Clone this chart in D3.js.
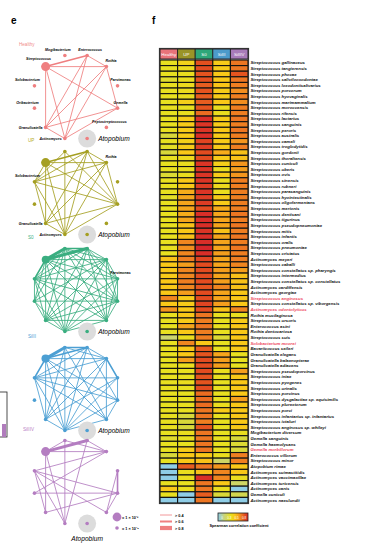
<!DOCTYPE html>
<html>
<head>
<meta charset="utf-8">
<script src="https://cdn.jsdelivr.net/npm/d3@7"></script>
<style>
body { margin: 0; background: #fff; }
svg { display: block; font-family: "Liberation Sans", Arial, sans-serif; }
</style>
</head>
<body>
<svg id="chart"></svg>
<script>
// figure size
var width = 370,
	height = 545;

// ---- data ----
var groups = ['Healthy', 'UP', 'S0', 'SiIII', 'SiIIIV'];

var species = [
	'Streptococcus gallinaceus', 'Streptococcus tangierensis', 'Streptococcus phocae',
	'Streptococcus salivilooxodontae', 'Streptococcus loxodontisalivarius', 'Streptococcus porcorum',
	'Streptococcus hyovaginalis', 'Streptococcus marimammalium', 'Streptococcus moroccensis',
	'Streptococcus rifensis', 'Streptococcus lactarius', 'Streptococcus sanguinis',
	'Streptococcus peroris', 'Streptococcus australis', 'Streptococcus cameli',
	'Streptococcus troglodytidis', 'Streptococcus gordonii', 'Streptococcus thoraltensis',
	'Streptococcus cuniculi', 'Streptococcus uberis', 'Streptococcus ovis',
	'Streptococcus sinensis', 'Streptococcus rubneri', 'Streptococcus parasanguinis',
	'Streptococcus hyointestinalis', 'Streptococcus oligofermentans', 'Streptococcus merionis',
	'Streptococcus dentisani', 'Streptococcus tigurinus', 'Streptococcus pseudopneumoniae',
	'Streptococcus mitis', 'Streptococcus infantis', 'Streptococcus oralis',
	'Streptococcus pneumoniae', 'Streptococcus cristatus', 'Actinomyces meyeri',
	'Streptococcus caballi', 'Streptococcus constellatus sp. pharyngis', 'Streptococcus intermedius',
	'Streptococcus constellatus sp. constellatus', 'Actinomyces cardiffensis', 'Actinomyces georgiae',
	'Streptococcus anginosus', 'Streptococcus constellatus sp. viborgensis', 'Actinomyces odontolyticus',
	'Rothia mucilaginosa', 'Streptococcus ursoris', 'Enterococcus asini',
	'Rothia dentocariosa', 'Streptococcus suis', 'Solobacterium moorei',
	'Bavariicoccus seileri', 'Granulicatella elegans', 'Granulicatella balaenopterae',
	'Granulicatella adiacens', 'Streptococcus pseudoporcinus', 'Streptococcus iniae',
	'Streptococcus pyogenes', 'Streptococcus urinalis', 'Streptococcus porcinus',
	'Streptococcus dysgalactiae sp. equisimilis', 'Streptococcus plurextorum', 'Streptococcus porci',
	'Streptococcus infantarius sp. infantarius', 'Streptococcus ictaluri', 'Streptococcus anginosus sp. whileyi',
	'Mogibacterium diversum', 'Gemella sanguinis', 'Gemella haemolysans',
	'Gemella morbillorum', 'Enterococcus villorum', 'Streptococcus minor',
	'Atopobium rimae', 'Actinomyces suimastitidis', 'Actinomyces vaccimaxillae',
	'Actinomyces turicensis', 'Actinomyces canis', 'Gemella cuniculi',
	'Actinomyces naeslundii'
];

// species highlighted in red in the row labels
var highlighted = ['Streptococcus anginosus', 'Actinomyces odontolyticus', 'Solobacterium moorei', 'Gemella morbillorum'];

// spearman correlation, one array per group (same order as species)
var healthyRho = [.30,.30,.30,.26,.30,.30,.30,.30,.30,.30, .30,.30,.30,.22,.30,.28,.22,.30,.30,.30,
	.24,.30,.30,.30,.28,.30,.30,.30,.30,.30, .30,.30,.30,.30,.30,.46,.44,.44,.42,.44,
	.44,.44,.62,.44,.58,.30,.30,.30,.30,.12, .30,.30,.30,.30,.30,.30,.30,.30,.30,.30,
	.30,.30,.30,.30,.30,.30,.30,.26,.30,.30, .22,.30,-.1,-.1,-.1,.30,.44,.30,-.1];
var upRho = [.38,.33,.32,.32,.33,.33,.32,.40,.30,.32, .42,.42,.42,.42,.40,.42,.44,.34,.32,.32,
	.32,.44,.44,.52,.54,.54,.54,.52,.54,.46, .44,.46,.62,.60,.62,.64,.56,.62,.62,.64,
	.62,.56,.42,.42,.44,.44,.42,.54,.44,.32, .62,.44,.44,.56,.32,.30,.30,.32,.30,.30,
	.30,.30,.30,.22,.22,.22,.32,.30,.30,.42, .44,.44,.72,.32,.32,.30,.32,-.1,-.1];
var s0Rho = [.75,.76,.74,.75,.72,.74,.72,.72,.74,.68, .84,.82,.82,.84,.78,.80,.76,.76,.82,.82,
	.82,.82,.80,.82,.80,.80,.76,.84,.84,.84, .82,.84,.84,.86,.84,.78,.76,.76,.76,.76,
	.74,.76,.76,.78,.76,.66,.64,.66,.64,.64, .44,.72,.74,.76,.76,.76,.74,.74,.76,.68,
	.68,.68,.66,.66,.64,.74,.66,.66,.66,.66, .44,.46,.66,.46,.84,.66,.66,.72,.66];
var si3Rho = [.42,.42,.44,.44,.45,.42,.42,.44,.32,.32, .42,.42,.44,.42,.42,.42,.52,.42,.40,.32,
	.42,.32,.34,.32,.42,.42,.52,.54,.54,.54, .46,.54,.54,.54,.56,.54,.54,.56,.54,.56,
	.62,.54,.54,.56,.46,.30,.30,.30,.30,.24, .30,.30,.54,.56,.56,.32,.30,.30,.30,.30,
	.30,.32,.42,.30,.30,.30,.30,.30,.30,.30, .32,.14,.58,.62,.62,.44,.32,.22,-.1];
var si34Rho = [.66,.66,.74,.66,.64,.60,.64,.60,.64,.64, .66,.64,.66,.64,.58,.64,.46,.46,.58,.56,
	.58,.64,.64,.64,.64,.64,.64,.66,.64,.66, .64,.66,.64,.66,.64,.64,.62,.56,.46,.46,
	.46,.44,.44,.44,.62,.30,.42,.44,.44,.44, .44,.44,.30,.30,.30,.56,.44,.44,.44,.44,
	.56,.44,.44,.44,.44,.44,.32,.22,.24,.22, .64,.64,.44,.44,.32,.14,-.1,.18,-.1];

var rhoByGroup = [healthyRho, upRho, s0Rho, si3Rho, si34Rho];

// genus networks (panel e)
var taxa = ['Mogibacterium', 'Enterococcus', 'Rothia', 'Parvimonas', 'Gemella', 'Peptostreptococcus',
	'Atopobium', 'Actinomyces', 'Granulicatella', 'Oribacterium', 'Solobacterium', 'Streptococcus'];

// relative abundance of Streptococcus per group, other genera ~1e-4
var strepAbundance = [0.012, 0.012, 0.004, 0.006, 0.012];

// edges: [source, target, strength class 1 (>0.4), 2 (>0.6), 3 (>0.8)]
var healthyEdges = [[11,1,2],[11,2,1],[11,4,1],[11,8,1],[11,7,1],[1,2,1],[1,8,1],[1,7,1],
	[2,8,1],[2,7,1],[2,4,1],[4,8,1],[4,7,1],[8,7,1]];
var upEdges = [[11,1,2],[11,2,1],[11,4,1],[11,10,1],[11,8,1],[11,7,1],[0,10,1],[0,7,1],[0,4,1],
	[1,2,1],[1,10,1],[1,8,1],[1,7,1],[1,4,1],[2,10,1],[2,8,1],[2,7,1],[2,4,1],
	[4,10,1],[4,8,1],[4,7,1],[10,8,1],[10,7,1],[8,7,1]];
var s0Edges = [[0,1,2],[0,2,1],[0,3,1],[0,4,1],[0,5,1],[0,7,1],[0,8,1],[0,9,1],[0,10,1],[0,11,3],
	[1,2,1],[1,3,1],[1,4,1],[1,5,1],[1,7,1],[1,8,1],[1,10,1],[1,11,3],
	[2,3,1],[2,4,1],[2,5,1],[2,7,1],[2,8,1],[2,9,1],[2,10,1],[2,11,1],
	[3,4,1],[3,5,1],[3,7,1],[3,8,1],[3,10,1],[3,11,1],
	[4,5,1],[4,7,1],[4,8,1],[4,9,1],[4,10,1],[4,11,1],
	[5,7,1],[5,8,1],[5,10,1],[5,11,1],[7,8,1],[7,9,1],[7,10,1],[7,11,1],
	[8,9,1],[8,10,1],[8,11,1],[9,10,1],[9,11,1],[10,11,2]];
var si3Edges = [[11,0,3],[11,1,2],[0,1,2],[11,2,1],[11,4,1],[11,7,1],[11,8,1],[11,10,2],[11,5,1],
	[0,2,1],[0,7,1],[0,8,1],[0,5,1],[1,2,1],[1,10,1],[1,7,1],[1,8,1],[1,4,1],
	[2,3,2],[2,10,1],[2,7,1],[2,8,1],[2,5,1],[3,4,1],[3,10,1],[3,7,1],[3,8,1],
	[4,10,1],[4,7,1],[4,5,1],[5,10,1],[5,7,1],[7,10,1],[7,8,1],[8,10,1]];
var si34Edges = [[11,1,3],[11,0,1],[0,2,1],[1,2,1],[11,2,1],[2,10,1],[2,9,1],[11,7,1],[11,8,1],
	[10,8,1],[10,7,1],[0,7,1],[1,7,1],[3,4,2],[3,5,1],[4,5,1],[4,10,1],[4,9,1],[4,8,1],[10,5,1]];

var edgesByGroup = [healthyEdges, upEdges, s0Edges, si3Edges, si34Edges];

// which genera carry a name label in each network
var labelledTaxa = [[0,1,2,3,4,5,7,8,9,10,11], [2,10,8,7], [3], [], []];

// ---- styles ----
var headerColors = ['#e8737a', '#9a9428', '#2ea77a', '#4c9bcb', '#a87bb9'];
var netColors = ['#ef7f80', '#a59f22', '#3aae80', '#4c9fd3', '#b47dc1'];
var labelColors = ['#f08c8c', '#b5ab2a', '#3db184', '#4aa0d5', '#b883c6'];

var color = d3.scaleLinear()
	.domain([-0.1, 0.1, 0.22, 0.3, 0.44, 0.55, 0.65, 0.75, 0.86])
	.range(['#8fcde6', '#c9d47a', '#d8d83a', '#e8e020', '#f9c818', '#f5a21c', '#ee7a22', '#e4501f', '#d6262a'])
	.clamp(true);

var svg = d3.select('#chart')
	.attr('width', width)
	.attr('height', height);

// panel letters
svg.append('text').attr('x', 11).attr('y', 24)
	.style('font-size', '10px').style('font-weight', 'bold').text('e');
svg.append('text').attr('x', 152).attr('y', 24)
	.style('font-size', '10px').style('font-weight', 'bold').text('f');

// cut-off piece of the neighbouring panel on the far left
svg.append('rect').attr('x', -4).attr('y', 392).attr('width', 11).attr('height', 45)
	.attr('fill', 'none').attr('stroke', '#222').attr('stroke-width', 0.8);
svg.append('rect').attr('x', 2).attr('y', 424).attr('width', 4).attr('height', 13)
	.attr('fill', '#b07cbc');

// ---- panel e: networks ----
var netCenterX = 76,
	netCenterY = [97, 193, 290, 389, 482],
	netRadius = 43;

var angle = d3.scaleLinear() // clockwise from top, degrees
	.domain([0, taxa.length])
	.range([-15, 345]);

var rScale = d3.scaleLog()
	.domain([1e-4, 1e-2])
	.range([1.8, 4.4]);

var widthScale = d3.scaleOrdinal()
	.domain([1, 2, 3])
	.range([0.85, 1.6, 3]);

groups.forEach(function(g, gi) {
	var cy = netCenterY[gi];
	var nodes = taxa.map(function(name, i) {
		var a = angle(i) * Math.PI / 180;
		return {
			name: name,
			i: i,
			x: netCenterX + netRadius * Math.sin(a),
			y: cy - netRadius * Math.cos(a),
			abund: name === 'Streptococcus' ? strepAbundance[gi] : 1e-4
		};
	});

	var panel = svg.append('g');

	panel.append('text')
		.attr('x', gi === 4 ? 23 : (gi === 0 ? 19 : 28))
		.attr('y', cy - 51)
		.attr('fill', labelColors[gi])
		.style('font-size', '4.6px')
		.text(g);

	panel.selectAll('line')
		.data(edgesByGroup[gi])
		.enter()
		.append('line')
			.attr('x1', d => nodes[d[0]].x)
			.attr('y1', d => nodes[d[0]].y)
			.attr('x2', d => nodes[d[1]].x)
			.attr('y2', d => nodes[d[1]].y)
			.attr('stroke', netColors[gi])
			.attr('stroke-width', d => widthScale(d[2]))
			.attr('stroke-linecap', 'round');

	// Atopobium halo
	var atop = nodes[6];
	panel.append('circle')
		.attr('cx', atop.x).attr('cy', atop.y).attr('r', 9)
		.attr('fill', '#dcdcdc');

	panel.selectAll('circle.node')
		.data(nodes)
		.enter()
		.append('circle')
			.attr('class', 'node')
			.attr('cx', d => d.x)
			.attr('cy', d => d.y)
			.attr('r', d => rScale(d.abund))
			.attr('fill', netColors[gi]);

	panel.selectAll('text.taxon')
		.data(nodes.filter(d => labelledTaxa[gi].indexOf(d.i) >= 0))
		.enter()
		.append('text')
			.attr('class', 'taxon')
			.attr('x', function(d) {
				if (d.i === 7 || d.i === 8) return d.x - 3;
				if (d.i === 2) return d.x - 1;
				if (d.i >= 9 || d.i === 0) return d.x - 7;
				return d.x + 3;
			})
			.attr('y', function(d) {
				if (d.i === 7 || d.i === 8) return d.y + 1.5;
				if (d.i === 11) return d.y - 7;
				return d.y - 4.5;
			})
			.attr('text-anchor', d => (d.i === 7 || d.i === 8) ? 'end' : (d.i === 2 ? 'start' : 'middle'))
			.style('font-size', '3.6px')
			.style('font-weight', 'bold')
			.style('font-style', 'italic')
			.text(d => d.name);

	panel.append('text')
		.attr('x', gi === 4 ? atop.x : atop.x + 11)
		.attr('y', gi === 4 ? atop.y + 17 : atop.y + 2)
		.attr('text-anchor', gi === 4 ? 'middle' : 'start')
		.style('font-size', '6.6px')
		.style('font-style', 'italic')
		.text('Atopobium');
});

// size legend
var sizeLegend = [1e-2, 1e-4];
svg.selectAll('circle.size')
	.data(sizeLegend)
	.enter()
	.append('circle')
		.attr('cx', 117)
		.attr('cy', (d, i) => 517 + i * 11)
		.attr('r', d => rScale(d))
		.attr('fill', netColors[4]);
svg.selectAll('text.size')
	.data(sizeLegend)
	.enter()
	.append('text')
		.attr('x', 122)
		.attr('y', (d, i) => 518.5 + i * 11)
		.style('font-size', '3.8px')
		.style('font-weight', 'bold')
		.text(d => '= 1 \u00d7 10' + (d === 1e-2 ? '\u207b\u00b2' : '\u207b\u2074'));

// edge strength legend
var edgeLegend = [1, 2, 3];
var edgeLabels = ['> 0.4', '> 0.6', '> 0.8'];
svg.selectAll('line.edgeLegend')
	.data(edgeLegend)
	.enter()
	.append('line')
		.attr('x1', 160).attr('x2', 172)
		.attr('y1', (d, i) => 515 + i * 6.5)
		.attr('y2', (d, i) => 515 + i * 6.5)
		.attr('stroke', netColors[0])
		.attr('stroke-width', d => [0.8, 2, 4.2][d - 1]);
svg.selectAll('text.edgeLegend')
	.data(edgeLegend)
	.enter()
	.append('text')
		.attr('x', 175)
		.attr('y', (d, i) => 516.5 + i * 6.5)
		.style('font-size', '3.8px')
		.style('font-weight', 'bold')
		.text((d, i) => edgeLabels[i]);

// ---- panel f: heatmap ----
var x = d3.scaleBand()
	.domain(groups)
	.range([160, 248]);

var y = d3.scaleBand()
	.domain(species)
	.range([60, 503]);

var heat = svg.append('g');

heat.selectAll('rect.header')
	.data(groups)
	.enter()
	.append('rect')
		.attr('x', d => x(d))
		.attr('y', 49)
		.attr('width', x.bandwidth())
		.attr('height', 10)
		.attr('fill', (d, i) => headerColors[i])
		.attr('stroke', '#222')
		.attr('stroke-width', 0.9);

heat.selectAll('text.header')
	.data(groups)
	.enter()
	.append('text')
		.attr('x', d => x(d) + x.bandwidth() / 2)
		.attr('y', 55.8)
		.attr('text-anchor', 'middle')
		.attr('fill', '#fff')
		.style('font-size', '4.4px')
		.text(d => d);

var cells = [];
species.forEach(function(s, si) {
	groups.forEach(function(g, gi) {
		cells.push({ species: s, group: g, rho: rhoByGroup[gi][si] });
	});
});

heat.selectAll('rect.cell')
	.data(cells)
	.enter()
	.append('rect')
		.attr('x', d => x(d.group))
		.attr('y', d => y(d.species))
		.attr('width', x.bandwidth())
		.attr('height', y.bandwidth())
		.attr('fill', d => color(d.rho))
		.attr('stroke', '#111')
		.attr('stroke-width', 1.1);

heat.append('rect')
	.attr('x', 159.5).attr('y', 48.5)
	.attr('width', 89).attr('height', 455)
	.attr('fill', 'none')
	.attr('stroke', '#333')
	.attr('stroke-width', 1.2);

heat.selectAll('text.species')
	.data(species)
	.enter()
	.append('text')
		.attr('x', 250.5)
		.attr('y', d => y(d) + y.bandwidth() / 2 + 1.5)
		.attr('fill', d => highlighted.indexOf(d) >= 0 ? '#ee4a5e' : '#111')
		.style('font-size', '4.3px')
		.style('font-style', 'italic')
		.style('font-weight', 'bold')
		.text(d => d);

// colour bar legend
var defs = svg.append('defs');
var grad = defs.append('linearGradient').attr('id', 'rhoGrad');
var stops = [-0.1, 0.1, 0.3, 0.44, 0.55, 0.65, 0.75, 0.86];
var barScale = d3.scaleLinear().domain([-0.1, 0.86]).range([0, 100]);
grad.selectAll('stop')
	.data(stops)
	.enter()
	.append('stop')
		.attr('offset', d => barScale(d) + '%')
		.attr('stop-color', d => color(d));

svg.append('rect')
	.attr('x', 218).attr('y', 513)
	.attr('width', 30).attr('height', 8)
	.attr('fill', 'url(#rhoGrad)')
	.attr('stroke', '#222')
	.attr('stroke-width', 0.8);

var barTicks = ['0', '0.3', '0.5', '0.8'];
var barX = d3.scalePoint().domain(barTicks).range([222, 244]);
svg.selectAll('text.barTick')
	.data(barTicks)
	.enter()
	.append('text')
		.attr('x', d => barX(d))
		.attr('y', 518.5)
		.attr('text-anchor', 'middle')
		.attr('fill', '#fff')
		.style('font-size', '3px')
		.text(d => d);

svg.append('text')
	.attr('x', 239)
	.attr('y', 526.5)
	.attr('text-anchor', 'middle')
	.style('font-size', '3.8px')
	.style('font-weight', 'bold')
	.text('Spearman correlation coefficient');
</script>
</body>
</html>
